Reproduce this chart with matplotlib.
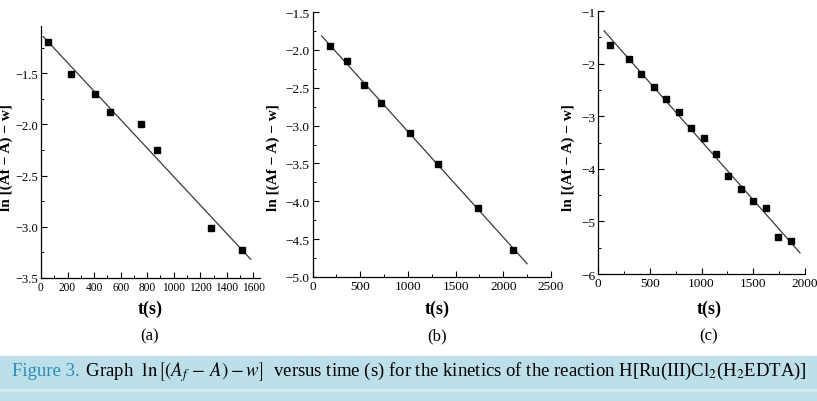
import numpy as np
import matplotlib
matplotlib.use("Agg")
import matplotlib.pyplot as plt
from matplotlib.ticker import MultipleLocator
from matplotlib.patches import Rectangle

plt.rcParams['font.family'] = ['Liberation Serif', 'DejaVu Serif']
plt.rcParams['mathtext.fontset'] = 'stix'

# data: time (s) and ln[(Af - A) - w]
t_a = [55, 226, 404, 520, 755, 871, 1278, 1512]
y_a = [-1.20, -1.505, -1.70, -1.88, -2.00, -2.25, -3.01, -3.23]

t_b = [180, 360, 540, 720, 1020, 1320, 1740, 2100]
y_b = [-1.955, -2.149, -2.462, -2.70, -3.098, -3.508, -4.086, -4.647]

t_c = [120, 300, 420, 540, 660, 780, 900, 1020, 1140, 1260, 1380, 1500, 1620, 1740, 1860]
y_c = [-1.64, -1.91, -2.19, -2.44, -2.67, -2.92, -3.23, -3.42, -3.72, -4.14,
       -4.39, -4.61, -4.74, -5.29, -5.37]

fit_range_a = [17, 1580]
fit_range_b = [95, 2250]
fit_range_c = [58, 1952]

W, H = 817, 402
fig = plt.figure(figsize=(W / 100, H / 100), dpi=100)


def px_axes(l, t, r, b):
    return fig.add_axes([l / W, 1 - b / H, (r - l) / W, (b - t) / H])


panels = [
    dict(box=(41, 27, 260, 279), t=t_a, y=y_a, fr=fit_range_a,
         xlim=(0, 1650), ylim=(-3.5, -1.04), xm=200, xn=100, ym=0.5, yn=0.25,
         ylx=6, lab='(a)', cx=150, xfs=8.3, yfs=9),
    dict(box=(312.5, 13, 551, 278), t=t_b, y=y_b, fr=fit_range_b,
         xlim=(0, 2500), ylim=(-5.0, -1.5), xm=500, xn=250, ym=0.5, yn=0.25,
         ylx=273, lab='(b)', cx=437, xfs=9.5, yfs=9.5),
    dict(box=(598, 12, 805, 275), t=t_c, y=y_c, fr=fit_range_c,
         xlim=(0, 2000), ylim=(-6, -1), xm=500, xn=250, ym=1, yn=0.5,
         ylx=568, lab='(c)', cx=709, xfs=9.5, yfs=9.5),
]

for p in panels:
    ax = px_axes(*p['box'])
    ax.plot(p['t'], p['y'], 's', color='black', ms=4.5, zorder=3)
    k, c0 = np.polyfit(p['t'], p['y'], 1)
    xf = np.array(p['fr'])
    ax.plot(xf, k * xf + c0, '-', color='#3a3a3a', lw=0.9)
    ax.set_xlim(*p['xlim'])
    ax.set_ylim(*p['ylim'])
    ax.xaxis.set_major_locator(MultipleLocator(p['xm']))
    ax.xaxis.set_minor_locator(MultipleLocator(p['xn']))
    ax.yaxis.set_major_locator(MultipleLocator(p['ym']))
    ax.yaxis.set_minor_locator(MultipleLocator(p['yn']))
    for s in ['top', 'right']:
        ax.spines[s].set_visible(False)
    for s in ['left', 'bottom']:
        ax.spines[s].set_linewidth(0.9)
    ax.tick_params(which='major', direction='in', length=4, width=0.8, pad=2)
    ax.tick_params(which='minor', direction='in', length=2, width=0.7)
    ax.tick_params(axis='x', labelsize=p['xfs'])
    ax.tick_params(axis='y', labelsize=p['yfs'])
    ax.patch.set_alpha(0)

    fig.text(p['ylx'] / W, 1 - 158 / H, 'ln [(Af − A) − w]', rotation=90,
             ha='center', va='center', fontsize=11, fontweight='bold')
    fig.text(p['cx'] / W, 1 - 309 / H, 't(s)', ha='center', va='center',
             fontsize=13, fontweight='bold')
    fig.text(p['cx'] / W, 1 - 336 / H, p['lab'], ha='center', va='center',
             fontsize=12)

# caption box
fig.patches.append(Rectangle((0, 0), 1, 45 / H, transform=fig.transFigure,
                             color='#bcdfea', zorder=0))
fig.patches.append(Rectangle((0, 10.5 / H), 1, 1.2 / H, transform=fig.transFigure,
                             color='#d6ecf3', zorder=0))

cap_y = 1 - 372 / H
t1 = fig.text(12 / W, cap_y, 'Figure 3.', color='#2b8cb4', fontsize=13.5,
              ha='left', va='center')
fig.canvas.draw()
r = fig.canvas.get_renderer()
e = t1.get_window_extent(r)
rest = (r' Graph  $\ln\left[\left(A_f\,-\,A\right)-w\right]$  versus time (s) for the '
        r'kinetics of the reaction H[Ru(III)Cl$_2$(H$_2$EDTA)]')
fig.text((e.x1 + 1) / W, cap_y, rest, color='black', fontsize=13.5,
         ha='left', va='center')

fig.savefig('out.png', dpi=100)
